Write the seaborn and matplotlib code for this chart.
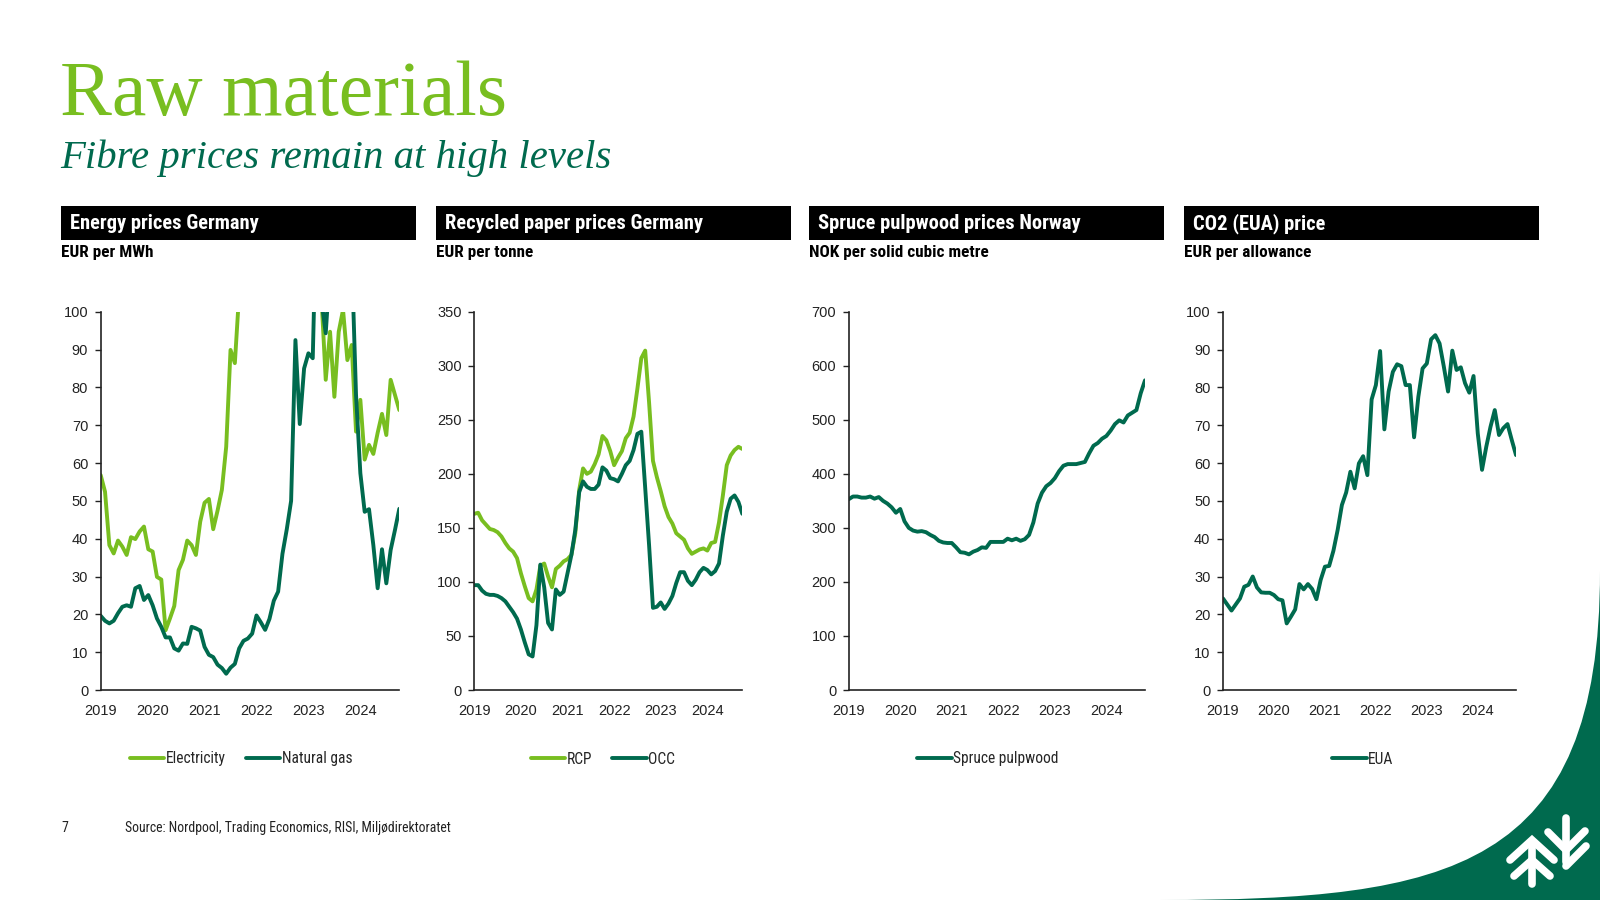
import numpy as np
import pandas as pd
import matplotlib
matplotlib.use("Agg")
import matplotlib.pyplot as plt
import seaborn as sns
from matplotlib.patches import Rectangle, PathPatch
from matplotlib.path import Path
from matplotlib import font_manager as fm

# ---------------- data (monthly, Jan 2019 - Oct 2024) ----------------
year_labels = ["2019", "2020", "2021", "2022", "2023", "2024"]

electricity = [56.8, 52.4, 38.3, 36.1, 39.5, 37.9, 35.7, 40.4, 39.9, 41.9,
               43.2, 37.2, 36.6, 29.9, 29.2, 15.8, 18.9, 22.2, 31.7, 34.4,
               39.5, 38.3, 35.7, 44.5, 49.5, 50.5, 42.5, 47.4, 52.9, 64.3,
               89.9, 86.4, 105, 139, 176, 221, 167, 129, 252, 166,
               177, 218, 315, 465, 356, 151, 177, 252, 118, 132,
               113, 104, 82.0, 94.7, 77.5, 94.7, 100.5, 87.2, 91.2, 68.3,
               76.7, 60.9, 64.8, 62.4, 68.0, 73.0, 67.4, 82.0, 78.0, 74.0]
natural_gas = [19.6, 18.3, 17.6, 18.3, 20.3, 22.0, 22.4, 22.0, 26.9, 27.5,
               23.8, 25.1, 22.4, 18.9, 16.7, 13.9, 13.9, 11.0, 10.4, 12.3,
               12.2, 16.7, 16.3, 15.7, 11.4, 9.3, 8.7, 6.7, 5.8, 4.3,
               5.9, 6.9, 11.0, 13.0, 13.6, 14.9, 19.7, 17.9, 15.9, 18.8,
               23.6, 26.0, 36.0, 42.5, 50.0, 92.5, 70.3, 85.0, 89.0, 87.7,
               135, 103, 94.3, 112, 125, 135, 130, 120, 115, 78.0,
               57.3, 47.1, 47.8, 38.3, 26.9, 37.2, 28.2, 37.0, 42.3, 47.9]

rcp = [163, 164, 157, 153, 149, 148, 146, 142, 136, 131,
       128, 122, 108, 96, 85, 82, 93, 115, 117, 105,
       95, 112, 115, 119, 121, 125, 145, 185, 205, 200,
       202, 209, 218, 235, 231, 221, 208, 215, 221, 233,
       238, 253, 279, 307, 314, 266, 212, 197, 184, 170,
       160, 154, 145, 142, 139, 131, 126, 128, 130, 131,
       129, 136, 137, 155, 180, 208, 217, 222, 225, 223]
occ = [97, 97, 92, 89, 88, 88, 87, 85, 82, 77,
       72, 66, 56, 44, 33, 31, 60, 116, 95, 62,
       56, 93, 88, 91, 108, 125, 148, 183, 193, 188,
       186, 186, 190, 206, 203, 196, 195, 193, 200, 208,
       212, 222, 237, 239, 187, 134, 76, 77, 81, 75,
       80, 87, 99, 109, 109, 101, 97, 102, 109, 113,
       111, 107, 110, 117, 143, 165, 177, 180, 174, 163]

spruce = [353, 358, 358, 356, 356, 358, 354, 357, 350, 345,
          338, 328, 335, 312, 300, 295, 293, 294, 292, 287,
          283, 276, 273, 272, 272, 264, 255, 254, 251, 256,
          259, 264, 263, 274, 274, 274, 274, 280, 277, 280,
          276, 279, 287, 310, 345, 365, 377, 383, 392, 405,
          415, 418, 418, 418, 420, 422, 438, 452, 457, 465,
          470, 480, 492, 499, 495, 508, 513, 518, 549, 573]

eua = [24.2, 22.6, 21.0, 22.6, 24.2, 27.3, 27.8, 30.0, 27.1, 25.8,
       25.7, 25.7, 25.1, 24.0, 23.7, 17.6, 19.4, 21.3, 28.0, 26.6,
       28.0, 26.7, 24.0, 29.1, 32.6, 32.8, 36.8, 42.3, 48.9, 52.2,
       57.7, 53.3, 59.9, 61.8, 56.8, 76.8, 80.6, 89.6, 68.9, 78.9,
       84.1, 86.1, 85.6, 80.6, 80.6, 66.8, 77.5, 85.0, 86.3, 92.7,
       93.8, 91.6, 85.5, 78.9, 89.7, 84.6, 85.3, 81.1, 78.6, 83.0,
       67.8, 58.2, 64.3, 69.6, 74.0, 67.4, 69.2, 70.3, 66.1, 62.1]

months = np.arange(len(eua))

# ---------------- style ----------------
LIGHT = "#78BE20"
DARK = "#006A4E"
sns.set_theme(style="white")
plt.rcParams["font.family"] = ["Liberation Sans", "DejaVu Sans"]

# pick a condensed sans if one is installed
installed = {f.name for f in fm.fontManager.ttflist}
cond_name = None
for cand in ["Liberation Sans Narrow", "Roboto Condensed", "Open Sans Condensed",
             "DejaVu Sans Condensed", "Noto Sans Condensed", "Arial Narrow"]:
    if cand in installed:
        cond_name = cand
        break
cond_stretch = "normal"
if cond_name is None:
    for f in fm.fontManager.ttflist:
        if f.name in ("DejaVu Sans", "Noto Sans", "Open Sans") and str(f.stretch) in ("condensed", "semi-condensed", "500", "600"):
            cond_name = f.name
            cond_stretch = "condensed"
            break
if cond_name is None:
    cond_name = "Liberation Sans"
    SCALE = 0.86
else:
    SCALE = 1.0
NARROW = [cond_name, "DejaVu Sans"]
NK = dict(family=NARROW, fontstretch=cond_stretch)

fig = plt.figure(figsize=(16, 9), dpi=100)

bg = fig.add_axes([0, 0, 1, 1], zorder=-5)
bg.set_xlim(0, 1600)
bg.set_ylim(900, 0)
bg.axis("off")

bg.text(60, 115, "Raw materials", family=["Liberation Serif", "DejaVu Serif"],
        fontsize=56, color=LIGHT, va="baseline", ha="left")
bg.text(60, 168, "Fibre prices remain at high levels",
        family=["Liberation Serif", "DejaVu Serif"], style="italic",
        fontsize=29.3, color=DARK, va="baseline", ha="left")

verts = [(1160, 900), (1450, 900), (1600, 870), (1600, 571), (1600, 900), (1160, 900)]
codes = [Path.MOVETO, Path.CURVE4, Path.CURVE4, Path.CURVE4, Path.LINETO, Path.CLOSEPOLY]
bg.add_patch(PathPatch(Path(verts, codes), facecolor=DARK, edgecolor="none"))
lk = dict(color="white", lw=5.5, solid_capstyle="round", solid_joinstyle="miter")
bg.plot([1532, 1532], [884, 846], **lk)
bg.plot([1510, 1532, 1554], [860, 840, 860], **lk)
bg.plot([1514, 1532, 1550], [876, 860, 876], **lk)
bg.plot([1566, 1566], [818, 862], **lk)
bg.plot([1548, 1566, 1585], [832, 850, 831], **lk)
bg.plot([1586, 1566], [846, 866], **lk)

bg.text(61, 828, "7", fontsize=10 * SCALE, color="#222222", va="center", ha="left", **NK)
bg.text(125, 828, "Source: Nordpool, Trading Economics, RISI, Miljødirektoratet",
        fontsize=9.9 if SCALE == 1.0 else 9.0, color="#222222",
        va="center", ha="left", **NK)

panels = [
    dict(title="Energy prices Germany", unit="EUR per MWh", bar=61,
         ax=(100.7, 399.3), ylim=(0, 100), yticks=np.arange(0, 101, 10),
         series=[("Electricity", electricity, LIGHT), ("Natural gas", natural_gas, DARK)],
         leg_x=241),
    dict(title="Recycled paper prices Germany", unit="EUR per tonne", bar=436,
         ax=(474.3, 742.3), ylim=(0, 350), yticks=np.arange(0, 351, 50),
         series=[("RCP", rcp, LIGHT), ("OCC", occ, DARK)], leg_x=603),
    dict(title="Spruce pulpwood prices Norway", unit="NOK per solid cubic metre", bar=809,
         ax=(848.7, 1145), ylim=(0, 700), yticks=np.arange(0, 701, 100),
         series=[("Spruce pulpwood", spruce, DARK)], leg_x=988),
    dict(title="CO2 (EUA) price", unit="EUR per allowance", bar=1184,
         ax=(1223, 1516), ylim=(0, 100), yticks=np.arange(0, 101, 10),
         series=[("EUA", eua, DARK)], leg_x=1363),
]

title_fs = 14.8 if SCALE == 1.0 else 12.5
unit_fs = 12.3 if SCALE == 1.0 else 10.5
leg_fs = 11.2 if SCALE == 1.0 else 10.2

y_bottom, y_top = 690, 311.7
for p in panels:
    bg.add_patch(Rectangle((p["bar"], 206), 355, 34, facecolor="black", edgecolor="none"))
    bg.text(p["bar"] + 9, 223.5, p["title"], color="white", fontsize=title_fs,
            fontweight="bold", va="center", ha="left", **NK)
    bg.text(p["bar"], 257, p["unit"], color="black", fontsize=unit_fs,
            fontweight="bold", va="baseline", ha="left", **NK)

    x0, x1 = p["ax"]
    ax = fig.add_axes([x0 / 1600, 1 - y_bottom / 900, (x1 - x0) / 1600,
                       (y_bottom - y_top) / 900])
    for name, vals, col in p["series"]:
        df = pd.DataFrame({"month": months, "value": vals})
        sns.lineplot(data=df, x="month", y="value", ax=ax, color=col,
                     linewidth=2.8, label=name)
    ax.set_xlim(0, len(months) - 1)
    ax.set_ylim(*p["ylim"])
    ax.set_yticks(p["yticks"])
    ax.set_yticklabels([str(int(v)) for v in p["yticks"]])
    ax.set_xticks(np.arange(0, 61, 12))
    ax.set_xticklabels(year_labels)
    ax.set_xlabel("")
    ax.set_ylabel("")
    for s in ["top", "right"]:
        ax.spines[s].set_visible(False)
    for s in ["left", "bottom"]:
        ax.spines[s].set_color("#222222")
        ax.spines[s].set_linewidth(1.2)
    ax.tick_params(axis="y", direction="out", length=4, width=1, color="#222222",
                   labelsize=10.5, labelcolor="#222222", pad=5, left=True)
    ax.tick_params(axis="x", length=0, labelsize=10.5, labelcolor="#222222", pad=10)
    ax.set_facecolor("none")
    ax.legend(loc="center", bbox_to_anchor=(p["leg_x"] / 1600, 1 - 759 / 900),
              bbox_transform=fig.transFigure, ncol=len(p["series"]), frameon=False,
              handlelength=2.2, handletextpad=0.1, columnspacing=1.3,
              prop=fm.FontProperties(family=NARROW, stretch=cond_stretch, size=leg_fs))

fig.savefig("out.png", dpi=100)
